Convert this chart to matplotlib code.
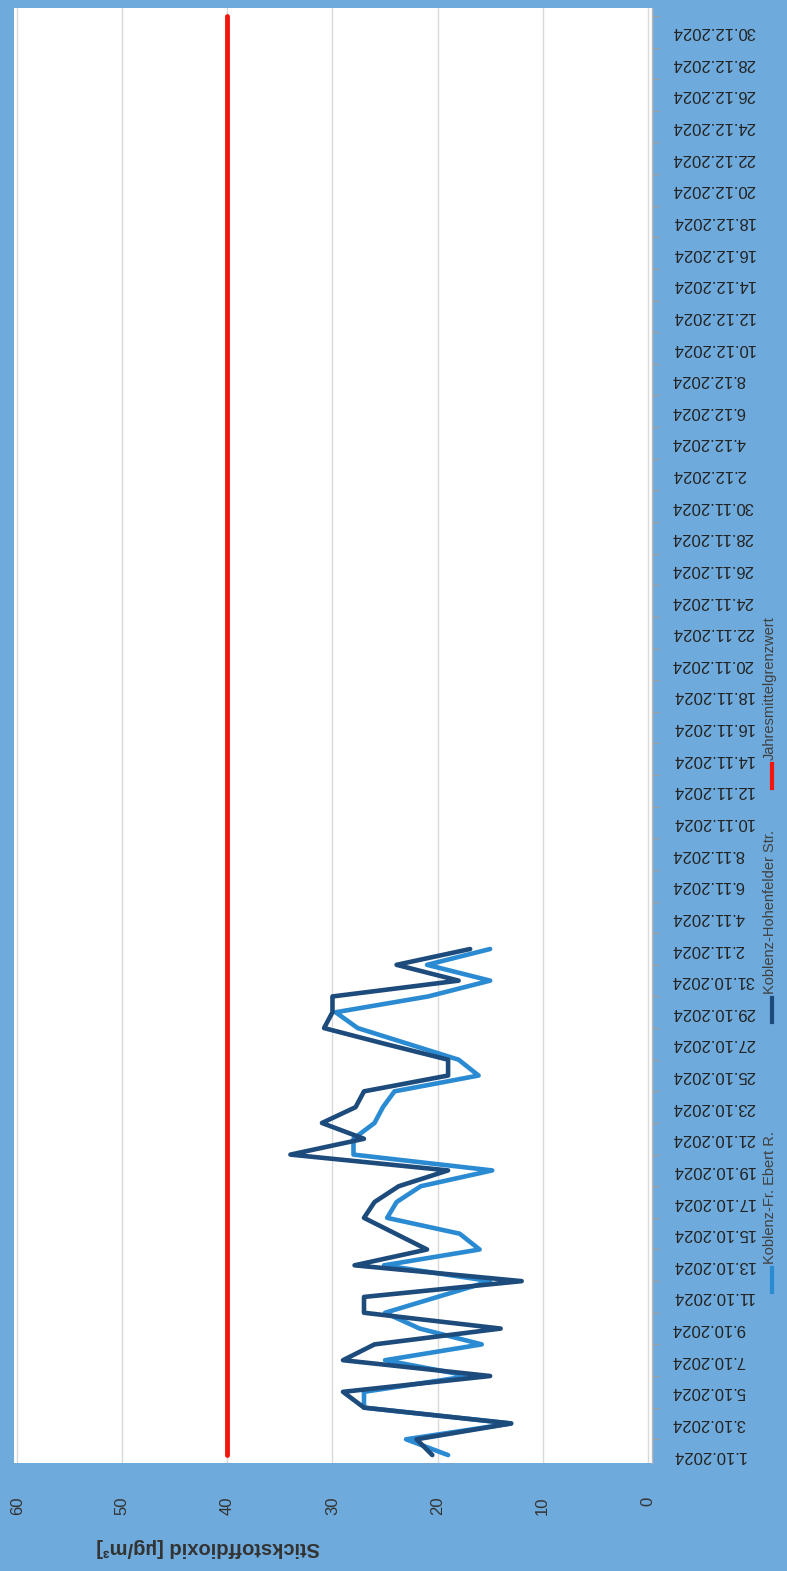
import matplotlib
matplotlib.use("Agg")
import matplotlib.pyplot as plt
from matplotlib.lines import Line2D
import pandas as pd

# NO2 daily means, 1.10. - 2.11.2024 (µg/m³)
fr_ebert = [19.0, 23.0, 13.0, 27.0, 27.0, 17.0, 25.0, 15.8, 21.7, 25.0,
            20.0, 15.0, 25.1, 16.0, 17.9, 24.8, 23.9, 21.6, 14.8, 28.0,
            28.0, 26.0, 25.2, 24.1, 16.1, 18.0, 22.8, 27.6, 29.7, 20.9,
            15.0, 21.0, 15.0]
hohenfelder = [20.5, 22.0, 13.0, 27.0, 29.0, 15.0, 29.0, 26.0, 14.0, 27.0,
               27.0, 12.0, 27.9, 21.0, 24.0, 27.0, 26.0, 23.7, 19.0, 34.0,
               27.0, 31.0, 27.8, 27.0, 19.0, 19.0, 25.0, 30.8, 30.0, 30.0,
               18.0, 23.9, 16.9]
limit_value = 40

series_names = ["Koblenz-Fr. Ebert R.", "Koblenz-Hohenfelder Str.", "Jahresmittelgrenzwert"]
value_ticks = [0, 10, 20, 30, 40, 50, 60]

dates = pd.date_range("2024-10-01", "2024-12-31", freq="D")
date_labels = [f"{d.day}.{d.month}.{d.year}" for d in dates]
limit = [limit_value] * len(dates)

c_light = "#2b8bd2"
c_dark = "#1d4b7c"
c_red = "#f2160f"
bg = "#6eaadb"
txt = "#333333"

W, H = 787, 1571
fig = plt.figure(figsize=(W / 100, H / 100), dpi=100, facecolor=bg)

# chart is laid out turned by 90 degrees: values run right-to-left, days upward
left, right, bottom, top = 14, 652, 1463, 8
ax = fig.add_axes([left / W, 1 - bottom / H, (right - left) / W, (bottom - top) / H])
ax.set_facecolor("white")

days = list(range(len(dates)))
ax.plot(fr_ebert, days[:len(fr_ebert)], color=c_light, lw=3.3,
        solid_joinstyle="round", solid_capstyle="round", zorder=3)
ax.plot(hohenfelder, days[:len(hohenfelder)], color=c_dark, lw=3.3,
        solid_joinstyle="round", solid_capstyle="round", zorder=4)
ax.plot(limit, days, color=c_red, lw=3.5, solid_capstyle="round", zorder=2)

ax.set_xlim(60.3, -0.4)
ax.set_ylim(-0.5, len(dates) - 0.5)

ax.set_xticks(value_ticks)
ax.set_xticklabels([str(v) for v in value_ticks], rotation=90,
                   fontsize=12, color=txt, family="Liberation Sans")
ax.tick_params(axis="x", length=0, pad=24)
ax.grid(axis="x", color="#d9d9d9", lw=1)
ax.set_axisbelow(True)

ax.yaxis.tick_right()
ax.set_yticks(days[::2])
ax.set_yticklabels(date_labels[::2], rotation=180, fontsize=12, color="#222222",
                   family="Liberation Sans", ha="left", va="center")
ax.tick_params(axis="y", which="major", length=0, pad=14)
ax.set_yticks(days[1::2], minor=True)
ax.tick_params(axis="y", which="minor", length=5, color="#a0a0a0", width=1, right=True, left=False)

for s in ["top", "left", "bottom"]:
    ax.spines[s].set_visible(False)
ax.spines["right"].set_color("#b8b8b8")
ax.spines["right"].set_linewidth(1)

fig.text(208 / W, 1 - 1547 / H, "Stickstoffdioxid [µg/m³]", rotation=180,
         ha="center", va="center", fontsize=14.5, fontweight="bold", color=txt,
         family="Liberation Sans")

# legend along the right edge, reading bottom to top
legend_x = 772
legend_items = [(c_light, 1292, 1268), (c_dark, 1022, 998), (c_red, 788, 764)]
for name, (col, y0, y1) in zip(series_names, legend_items):
    fig.add_artist(Line2D([legend_x / W, legend_x / W], [1 - y0 / H, 1 - y1 / H],
                          color=col, lw=3, transform=fig.transFigure))
    fig.text((legend_x - 2) / W, 1 - (y1 - 4) / H, name, rotation=90, ha="center",
             va="bottom", fontsize=10.5, color="#404040", family="Liberation Sans")

fig.savefig("out.png", dpi=100, facecolor=bg)
